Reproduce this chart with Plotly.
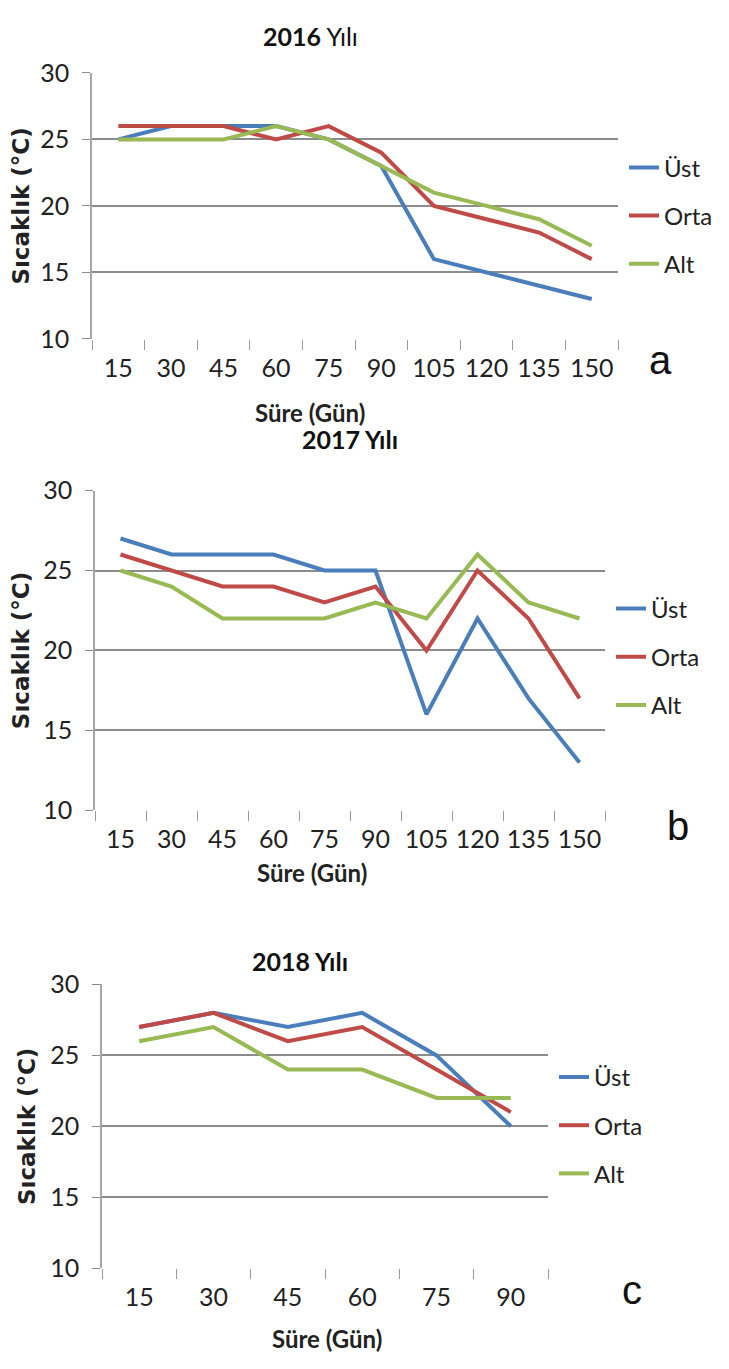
import plotly.graph_objects as go

# x categories (days)
days_a = ['15', '30', '45', '60', '75', '90', '105', '120', '135', '150']
days_b = ['15', '30', '45', '60', '75', '90', '105', '120', '135', '150']
days_c = ['15', '30', '45', '60', '75', '90']

# 2016
ust_2016 = [25, 26, 26, 26, 25, 23, 16, 15, 14, 13]
orta_2016 = [26, 26, 26, 25, 26, 24, 20, 19, 18, 16]
alt_2016 = [25, 25, 25, 26, 25, 23, 21, 20, 19, 17]

# 2017
ust_2017 = [27, 26, 26, 26, 25, 25, 16, 22, 17, 13]
orta_2017 = [26, 25, 24, 24, 23, 24, 20, 25, 22, 17]
alt_2017 = [25, 24, 22, 22, 22, 23, 22, 26, 23, 22]

# 2018
ust_2018 = [27, 28, 27, 28, 25, 20]
orta_2018 = [27, 28, 26, 27, 24, 21]
alt_2018 = [26, 27, 24, 24, 22, 22]

series_names = ['Üst', 'Orta', 'Alt']
colors = ['#4A7EBB', '#BE4B48', '#98B954']

NARROW = 'Lato, sans-serif'
W, H = 729, 1369
OFF = 8  # page body margin


def px_x(v):
    return (v - OFF) / W


def px_y(v):
    return 1 - (v - OFF) / H


panels = [
    (days_a, [ust_2016, orta_2016, alt_2016], (92, 618), (58, 330), 'legend', '<b>2016</b> Yılı', 310, 20, 'a', 660, 352, 150, 310, 405),
    (days_b, [ust_2017, orta_2017, alt_2017], (95, 605), (485, 812), 'legend2', '<b>2017 Yılı</b>', 350, 432, 'b', 678, 828, 601, 312, 875),
    (days_c, [ust_2018, orta_2018, alt_2018], (102, 548), (990, 1280), 'legend3', '<b>2018 Yılı</b>', 300, 966, 'c', 632, 1302, 1080, 327, 1352),
]

fig = go.Figure()
layout = dict(
    width=W, height=H,
    margin=dict(l=0, r=0, t=0, b=0),
    paper_bgcolor='white', plot_bgcolor='white',
    showlegend=True,
    annotations=[],
)

for i, (days, data, xr, yr, leg, title, tx, ty, letter, lx, ly, legy, sx, sy) in enumerate(panels):
    sfx = '' if i == 0 else str(i + 1)
    for name, vals, col in zip(series_names, data, colors):
        fig.add_trace(go.Scatter(
            x=days, y=vals, name=name, mode='lines',
            line=dict(color=col, width=4),
            xaxis='x' + sfx, yaxis='y' + sfx,
            legend=leg, legendgroup=name + sfx,
        ))
    layout['xaxis' + sfx] = dict(
        domain=[px_x(xr[0]), px_x(xr[1])], anchor='y' + sfx,
        type='category', range=[-0.5, len(days) - 0.5],
        tickson='boundaries', ticks='outside', ticklen=10,
        tickcolor='#999999', showline=False, showgrid=False,
        ticklabelstandoff=12, tickangle=0,
        tickfont=dict(family=NARROW, size=25, color='#222222'),
    )
    layout['yaxis' + sfx] = dict(
        domain=[px_y(yr[1]), px_y(yr[0])], anchor='x' + sfx,
        range=[10, 30], dtick=5, showgrid=True, gridcolor='#8C8C8C', gridwidth=1.5,
        showline=True, linecolor='#A6A6A6', linewidth=1.5,
        ticks='outside', ticklen=8, tickcolor='#8C8C8C',
        ticklabelstandoff=8,
        tickfont=dict(family=NARROW, size=25, color='#222222'),
        title=dict(text='<b>Sıcaklık (°C)</b>', font=dict(family='DejaVu Sans, sans-serif', size=23, color='#222222'), standoff=8),
        zeroline=False,
    )
    layout[leg] = dict(
        x=px_x(xr[1] + 6), y=px_y(legy - 18), xanchor='left', yanchor='top',
        bgcolor='rgba(0,0,0,0)', font=dict(family=NARROW, size=24, color='#222222'),
        tracegroupgap=14, traceorder='grouped', itemwidth=30,
    )
    layout['annotations'].append(dict(
        text=title, x=px_x(tx), y=px_y(ty), xref='paper', yref='paper',
        xanchor='center', yanchor='middle',
        showarrow=False, font=dict(family=NARROW, size=25, color='#111111'),
    ))
    layout['annotations'].append(dict(
        text='<b>Süre (Gün)</b>', x=px_x(sx), y=px_y(sy), xref='paper', yref='paper',
        xanchor='center', yanchor='middle',
        showarrow=False, font=dict(family=NARROW, size=24, color='#222222'),
    ))
    layout['annotations'].append(dict(
        text=letter, x=px_x(lx), y=px_y(ly), xref='paper', yref='paper',
        xanchor='center', yanchor='middle',
        showarrow=False, font=dict(family='Liberation Sans, Arial, sans-serif', size=40, color='#111111'),
    ))

fig.update_layout(**layout)
fig.write_html('out.html')
